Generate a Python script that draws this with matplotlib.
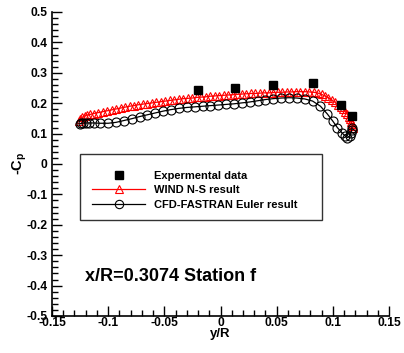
import matplotlib
matplotlib.use("Agg")
import matplotlib.pyplot as plt
from matplotlib.patches import Rectangle
from matplotlib.ticker import MultipleLocator, FixedLocator

plt.rcParams['font.family'] = ['Liberation Sans', 'DejaVu Sans']
plt.rcParams['font.weight'] = 'bold'
plt.rcParams['mathtext.fontset'] = 'custom'
plt.rcParams['mathtext.rm'] = 'Liberation Sans:bold'
plt.rcParams['mathtext.bf'] = 'Liberation Sans:bold'
plt.rcParams['mathtext.it'] = 'Liberation Sans:bold'

# Experimental data
exp_x = [-0.0196, 0.0125, 0.0464, 0.0821, 0.107, 0.117]
exp_y = [0.243, 0.250, 0.260, 0.266, 0.194, 0.158]

# WIND N-S result
wind_x = [-0.126, -0.125, -0.123, -0.121, -0.119,
          -0.116, -0.113, -0.109, -0.105, -0.101,
          -0.097, -0.093, -0.089, -0.085, -0.081, -0.077, -0.073, -0.069, -0.065, -0.061,
          -0.057, -0.053, -0.049, -0.045, -0.041, -0.037, -0.033, -0.029, -0.025, -0.021,
          -0.017, -0.013, -0.009, -0.005, -0.001,
          0.003, 0.007, 0.011, 0.015, 0.019, 0.023, 0.027, 0.031, 0.035, 0.039, 0.043,
          0.047, 0.051, 0.055, 0.059, 0.063, 0.067, 0.071, 0.075, 0.079, 0.083, 0.087,
          0.090, 0.093, 0.096, 0.099, 0.102, 0.105, 0.107, 0.109, 0.111, 0.113,
          0.114, 0.115, 0.116, 0.117, 0.118, 0.118]
wind_y = [0.140, 0.148, 0.154, 0.158, 0.161,
          0.163, 0.166, 0.169, 0.172, 0.175,
          0.178, 0.181, 0.184, 0.187, 0.190, 0.192, 0.195, 0.197, 0.199, 0.201,
          0.203, 0.205, 0.207, 0.209, 0.211, 0.213, 0.215, 0.216, 0.217, 0.219,
          0.220, 0.221, 0.223, 0.224, 0.225,
          0.226, 0.227, 0.228, 0.229, 0.230, 0.231, 0.232, 0.232, 0.233, 0.234, 0.234,
          0.235, 0.236, 0.236, 0.237, 0.237, 0.238, 0.238, 0.238, 0.237, 0.236, 0.233,
          0.229, 0.224, 0.218, 0.211, 0.203, 0.195, 0.188, 0.180, 0.172, 0.163,
          0.155, 0.147, 0.139, 0.131, 0.124, 0.118]

# CFD-FASTRAN Euler result
cfd_x = [-0.125, -0.124, -0.122, -0.120, -0.117, -0.113, -0.107, -0.100, -0.093, -0.086,
         -0.079, -0.072, -0.065, -0.058, -0.051, -0.044, -0.037, -0.030, -0.023, -0.016,
         -0.009, -0.002, 0.005, 0.012, 0.019, 0.026, 0.033, 0.040, 0.047, 0.054,
         0.061, 0.068, 0.075, 0.082, 0.089, 0.095, 0.100, 0.104, 0.108, 0.111,
         0.113, 0.115, 0.116, 0.117, 0.117]
cfd_y = [0.132, 0.134, 0.135, 0.135, 0.135, 0.135, 0.134, 0.134, 0.137, 0.143,
         0.149, 0.156, 0.162, 0.168, 0.174, 0.179, 0.183, 0.186, 0.188, 0.190,
         0.192, 0.194, 0.196, 0.198, 0.201, 0.204, 0.208, 0.212, 0.215, 0.217,
         0.218, 0.217, 0.214, 0.207, 0.190, 0.165, 0.141, 0.120, 0.103, 0.092,
         0.087, 0.092, 0.102, 0.112, 0.120]

x_ticks = [-0.15, -0.1, -0.05, 0, 0.05, 0.1, 0.15]
x_tick_labels = ['-0.15', '-0.1', '-0.05', '0', '0.05', '0.1', '0.15']
y_ticks = [-0.5, -0.4, -0.3, -0.2, -0.1, 0, 0.1, 0.2, 0.3, 0.4, 0.5]
y_tick_labels = ['-0.5', '-0.4', '-0.3', '-0.2', '-0.1', '0', '0.1', '0.2', '0.3', '0.4', '0.5']

W, H = 404, 353
fig = plt.figure(figsize=(W / 100, H / 100), dpi=100)
ax = fig.add_axes([52 / W, 1 - 316 / H, 337 / W, 304 / H])

l_wind, = ax.plot(wind_x, wind_y, color='red', lw=0.9, marker='^', ms=6,
                  mfc='none', mec='red', mew=0.8, label='WIND N-S result')
l_cfd, = ax.plot(cfd_x, cfd_y, color='black', lw=0.9, marker='o', ms=6.5,
                 mfc='none', mec='black', mew=0.8, label='CFD-FASTRAN Euler result')
l_exp, = ax.plot(exp_x, exp_y, ls='none', marker='s', ms=5.5, color='black',
                 label='Expermental data')

ax.set_xlim(-0.15, 0.15)
ax.set_ylim(-0.5, 0.5)
ax.xaxis.set_major_locator(FixedLocator(x_ticks))
ax.set_xticklabels(x_tick_labels)
ax.yaxis.set_major_locator(FixedLocator(y_ticks))
ax.set_yticklabels(y_tick_labels)
ax.xaxis.set_minor_locator(MultipleLocator(0.01))
ax.yaxis.set_minor_locator(MultipleLocator(0.02))
ax.tick_params(which='both', direction='in', top=False, right=False, width=1, color='black')
ax.tick_params(which='major', length=7)
ax.tick_params(which='minor', length=4)
ax.tick_params(axis='x', which='major', pad=1, labelsize=8.7)
ax.tick_params(axis='y', which='major', pad=3.5, labelsize=8.7)
for lab in ax.get_xticklabels() + ax.get_yticklabels():
    lab.set_fontweight('bold')
ax.spines['top'].set_visible(False)
ax.spines['right'].set_visible(False)
for s in ['left', 'bottom']:
    ax.spines[s].set_linewidth(1.2)

# legend box
rect = Rectangle((0.083, 0.316), 0.718, 0.217, transform=ax.transAxes,
                 fill=False, ec='#333333', lw=1.0, zorder=5)
ax.add_patch(rect)
leg = ax.legend(handles=[l_exp, l_wind, l_cfd], loc='upper left',
                bbox_to_anchor=(0.119, 0.478), frameon=False, borderpad=0,
                borderaxespad=0, handlelength=4.8, handletextpad=0.8,
                labelspacing=0.42, prop={'family': 'Liberation Sans', 'weight': 'bold', 'size': 8})
for h in leg.legend_handles:
    h.set_markersize(6)

ax.text(0.098, 0.115, 'x/R=0.3074 Station f', transform=ax.transAxes,
        fontsize=13, fontweight='bold', ha='left', va='baseline')

fig.text(20 / W, 1 - 163 / H, r'-C$_\mathbf{p}$', rotation=90, ha='center', va='center',
         fontsize=10.5, fontweight='bold')
fig.text(220 / W, 1 - 334 / H, 'y/R', ha='center', va='center', fontsize=9.5, fontweight='bold')

fig.savefig('out.png', dpi=100)
